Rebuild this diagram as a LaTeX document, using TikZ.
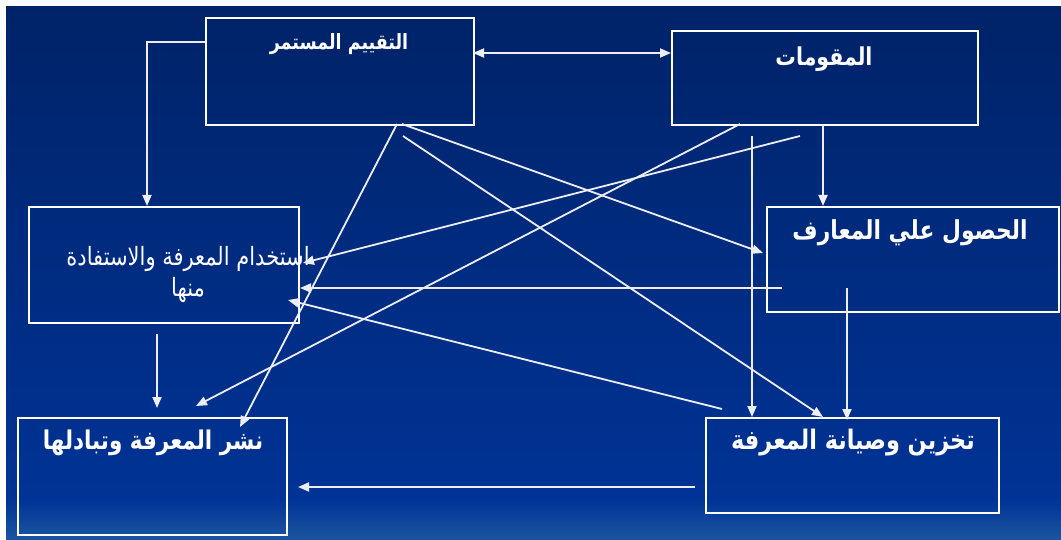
\documentclass[tikz,border=0pt]{standalone}
\usepackage{fontspec}
\usetikzlibrary{arrows.meta}
\TeXXeTstate=1
\newfontfamily\arabicfont[Script=Arabic]{DejaVu Sans}
\definecolor{bgtop}{RGB}{0,35,104}
\definecolor{bgmid}{RGB}{0,51,150}
\definecolor{bgbot}{RGB}{28,86,160}
\definecolor{linec}{RGB}{236,238,244}
\newcommand{\artall}[1]{\scalebox{1}[1.2]{\beginR #1\endR}}
\begin{document}
\begin{tikzpicture}[x=1pt,y=-1pt,
  boxnode/.style={draw=white, line width=1.8pt, inner sep=0pt, anchor=north west},
  lbl/.style={text=white, inner sep=0pt},
  conn/.style={draw=linec, line width=1.8pt, -{Triangle[length=11pt,width=9pt]}},
  dconn/.style={draw=linec, line width=1.8pt, {Triangle[length=11pt,width=9pt]}-{Triangle[length=11pt,width=9pt]}}]
\useasboundingbox (0,0) rectangle (1061,540);
\fill[white] (0,0) rectangle (1061,540);
\shade[top color=bgtop, bottom color=bgmid] (6,7) rectangle (1061,500);
\shade[top color=bgmid, bottom color=bgbot] (6,499.5) rectangle (1061,540);
% boxes
\node[boxnode, minimum width=268pt, minimum height=107pt] (b1) at (205,17) {};
\node[boxnode, minimum width=306pt, minimum height=94pt] (b2) at (671,30) {};
\node[boxnode, minimum width=270pt, minimum height=116pt] (b3) at (28,206) {};
\node[boxnode, minimum width=292pt, minimum height=105pt] (b4) at (766,206) {};
\node[boxnode, minimum width=269pt, minimum height=117pt] (b5) at (17,417) {};
\node[boxnode, minimum width=293pt, minimum height=95pt] (b6) at (705,417) {};
% labels
\node[lbl, font=\arabicfont\bfseries\fontsize{17.5}{20}\selectfont] (t1) at (339,44) {\artall{التقييم المستمر}};
\node[lbl, font=\arabicfont\bfseries\fontsize{20.5}{24}\selectfont] (t2) at (824,59) {\artall{المقومات}};
\node[lbl, font=\arabicfont\fontsize{21}{31}\selectfont, align=center] (t3) at (188,274) {\artall{استخدام المعرفة والاستفادة}\\\artall{منها}};
\node[lbl, font=\arabicfont\bfseries\fontsize{21.8}{24}\selectfont] (t4) at (910,233) {\artall{الحصول علي المعارف}};
\node[lbl, font=\arabicfont\bfseries\fontsize{21.5}{24}\selectfont] (t5) at (153,443) {\artall{نشر المعرفة وتبادلها}};
\node[lbl, font=\arabicfont\bfseries\fontsize{22.4}{24}\selectfont] (t6) at (853,443) {\artall{تخزين وصيانة المعرفة}};
% connector points
\coordinate (p1a) at (205,42);
\coordinate (p1b) at (147,42);
\coordinate (p1c) at (147,206);
\coordinate (p2a) at (473,53);
\coordinate (p2b) at (671,53);
\coordinate (p3a) at (823,124);
\coordinate (p3b) at (823,206);
\coordinate (p4a) at (397,124);
\coordinate (p4b) at (240,427);
\coordinate (p5a) at (402,124);
\coordinate (p5b) at (763,253);
\coordinate (p6a) at (403,136);
\coordinate (p6b) at (823,417);
\coordinate (p7a) at (740,124);
\coordinate (p7b) at (196,406);
\coordinate (p8a) at (800,136);
\coordinate (p8b) at (303,263);
\coordinate (p9a) at (752,136);
\coordinate (p9b) at (752,417);
\coordinate (p10a) at (782,288);
\coordinate (p10b) at (300,288);
\coordinate (p11a) at (847,288);
\coordinate (p11b) at (847,420);
\coordinate (p12a) at (722,409);
\coordinate (p12b) at (288,300);
\coordinate (p13a) at (157,334);
\coordinate (p13b) at (157,408);
\coordinate (p14a) at (695,487);
\coordinate (p14b) at (298,487);
% connectors
\draw[conn] (p1a) -- (p1b) -- (p1c);
\draw[dconn] (p2a) -- (p2b);
\draw[conn] (p3a) -- (p3b);
\draw[conn] (p4a) -- (p4b);
\draw[conn] (p5a) -- (p5b);
\draw[conn] (p6a) -- (p6b);
\draw[conn] (p7a) -- (p7b);
\draw[conn] (p8a) -- (p8b);
\draw[conn] (p9a) -- (p9b);
\draw[conn] (p10a) -- (p10b);
\draw[conn] (p11a) -- (p11b);
\draw[conn] (p12a) -- (p12b);
\draw[conn] (p13a) -- (p13b);
\draw[conn] (p14a) -- (p14b);
\end{tikzpicture}
\end{document}
